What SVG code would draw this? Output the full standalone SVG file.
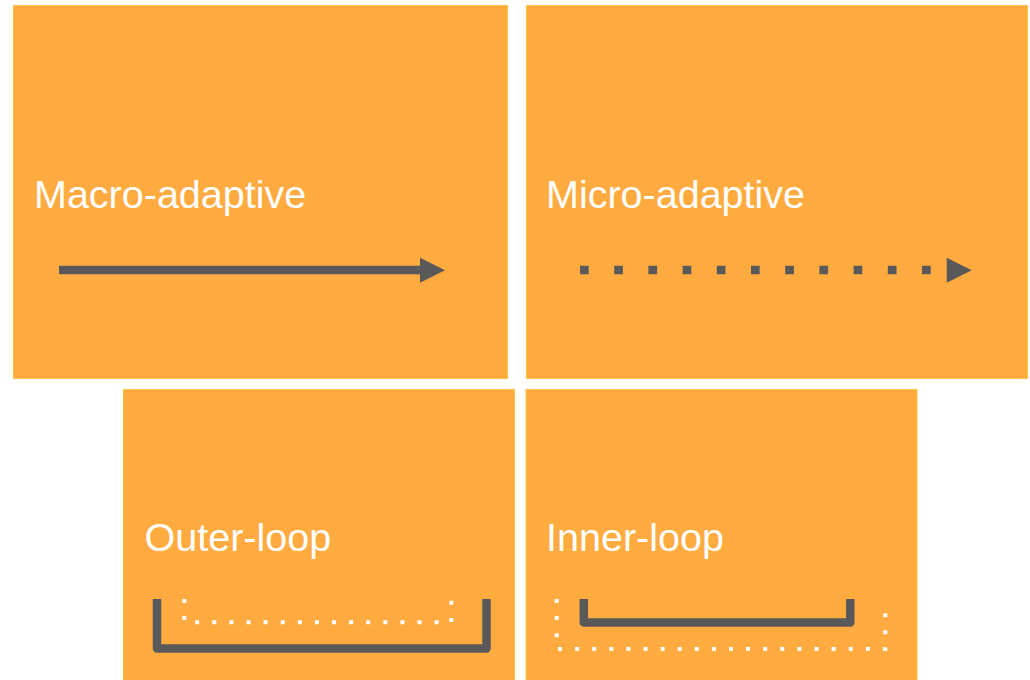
<svg xmlns="http://www.w3.org/2000/svg" xmlns:xlink="http://www.w3.org/1999/xlink" width="1030" height="680" viewBox="0 0 1030 680">
  <style>
    .box { fill: #FFAB40; stroke: #FFC040; stroke-width: 1; }
    .label { font-family: "Liberation Sans", Arial, sans-serif; font-size: 39.5px; fill: #FFFFFF; }
    .dark { fill: none; stroke: #595959; }
    .bracket { fill: none; stroke: #595959; stroke-width: 8.5; stroke-linejoin: round; stroke-linecap: butt; }
    .wdots { fill: none; stroke: #FFFFFF; stroke-width: 4; stroke-dasharray: 4 13.1; }
  </style>
  <defs>
    <polygon id="head" points="0,-12.5 25,0 0,12.5" fill="#595959"/>
  </defs>
  <rect width="1030" height="680" fill="#FFFFFF"/>

  <g id="macro-adaptive">
    <rect class="box" x="13.5" y="5.5" width="494" height="373"/>
    <text class="label" x="34" y="208">Macro-adaptive</text>
  </g>
  <g id="micro-adaptive">
    <rect class="box" x="526.5" y="5.5" width="501" height="373"/>
    <text class="label" x="546" y="208">Micro-adaptive</text>
  </g>
  <g id="outer-loop">
    <rect class="box" x="123.5" y="389.5" width="391" height="300"/>
    <text class="label" x="144.5" y="551">Outer-loop</text>
  </g>
  <g id="inner-loop">
    <rect class="box" x="526" y="389.5" width="391" height="300"/>
    <text class="label" x="546" y="551">Inner-loop</text>
  </g>

  <g id="connectors">
    <line class="dark" x1="59" y1="270" x2="421" y2="270" stroke-width="8.7"/>
    <use xlink:href="#head" href="#head" transform="translate(420,270.2)"/>
    <line class="dark" x1="580" y1="270" x2="940" y2="270" stroke-width="8.7" stroke-dasharray="8.7 25.5"/>
    <use xlink:href="#head" href="#head" transform="translate(946.7,270.2)"/>

    <path class="bracket" d="M157,599 V648.5 H486.5 V599"/>
    <path class="wdots" d="M184.3,599 V622.3 H451.3 V599"/>

    <path class="bracket" d="M583.8,599 V622.5 H850.3 V599"/>
    <path class="wdots" d="M556.7,599 V649 H885.3 V600"/>
  </g>
</svg>
